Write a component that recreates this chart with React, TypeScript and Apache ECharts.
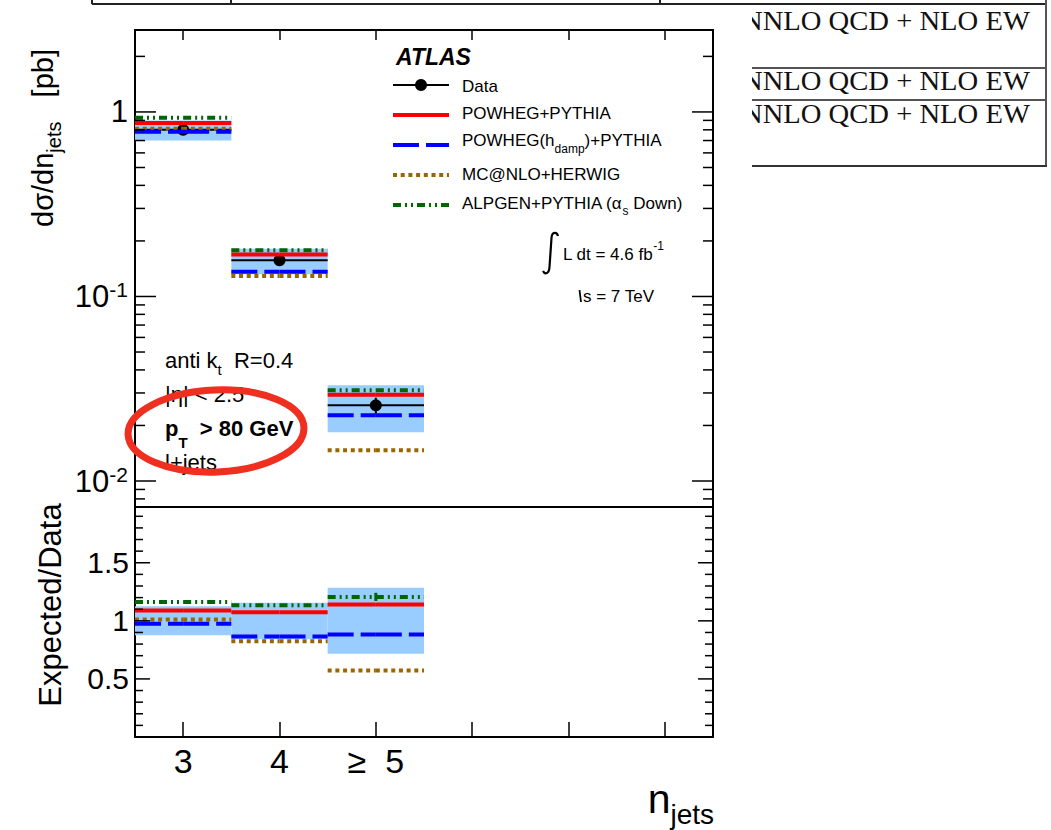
import { useEffect, useRef } from 'react';
import * as echarts from 'echarts';

// ---- data -------------------------------------------------------------
const bins = ['3', '4', '5', '6', '7', '8'];
const binLabels: Record<string, string> = { '3': '3', '4': '4', '5': '\u2265  5' };

const dataXsec = [0.8, 0.157, 0.0257];
const dataStatErr = [0.008, 0.003, 0.0026];
const totalUncUp = [0.9, 0.1815, 0.033];
const totalUncDown = [0.7, 0.132, 0.0184];

const powhegPythia = [0.872, 0.1687, 0.0293];
const powhegHdampPythia = [0.78, 0.136, 0.0227];
const mcatnloHerwig = [0.81, 0.1293, 0.0147];
const alpgenAsDown = [0.93, 0.178, 0.031];
const alpgenRatioErr = [0, 0, 0.035];

const logMajorTicks = [0.01, 0.1, 1];
const logMinorTicks = [0.008, 0.009, 0.02, 0.03, 0.04, 0.05, 0.06, 0.07, 0.08, 0.09, 0.2, 0.3, 0.4, 0.5, 0.6, 0.7, 0.8, 0.9, 2];
const ratioMajorTicks = [0.5, 1, 1.5];
const ratioMinorTicks = [0.1, 0.2, 0.3, 0.4, 0.6, 0.7, 0.8, 0.9, 1.1, 1.2, 1.3, 1.4, 1.6, 1.7, 1.8, 1.9];

// ---- styles -----------------------------------------------------------
const FONT = '"Liberation Sans", Arial, Helvetica, sans-serif';
const SERIF = '"Liberation Serif", "Times New Roman", serif';
const BAND = '#99ccff';

const models = [
  { values: mcatnloHerwig, color: '#996600', dash: [4, 3.7] },
  { values: powhegHdampPythia, color: '#0000ff', dash: [26, 7] },
  { values: powhegPythia, color: '#ff0000', dash: null as number[] | null },
  { values: alpgenAsDown, color: '#006600', dash: [8, 4, 2, 4, 2, 4] },
];

// each bin is drawn as two half segments (edge -> centre -> edge)
function halfBinRenderer(color: string, dash: number[] | null, width: number) {
  return (params: any, api: any) => {
    const idx = api.value(0);
    const v = api.value(1);
    const c = api.coord([idx, v]);
    const bw = api.size([1, 0], [idx, v])[0];
    const mk = () => ({ stroke: color, lineWidth: width, lineDash: dash || undefined, fill: null });
    return {
      type: 'group',
      children: [
        { type: 'line', shape: { x1: c[0] - bw / 2, y1: c[1], x2: c[0], y2: c[1] }, style: mk() },
        { type: 'line', shape: { x1: c[0], y1: c[1], x2: c[0] + bw / 2, y2: c[1] }, style: mk() },
      ],
    };
  };
}

function bandRenderer(params: any, api: any) {
  const idx = api.value(0);
  const lo = api.value(1);
  const hi = api.value(2);
  const top = api.coord([idx, hi]);
  const bot = api.coord([idx, lo]);
  const bw = api.size([1, 0], [idx, hi])[0];
  return {
    type: 'rect',
    shape: { x: top[0] - bw / 2, y: top[1], width: bw, height: bot[1] - top[1] },
    style: { fill: BAND },
  };
}

function dataRenderer(params: any, api: any) {
  const idx = api.value(0);
  const v = api.value(1);
  const e = api.value(2);
  const c = api.coord([idx, v]);
  const bw = api.size([1, 0], [idx, v])[0];
  const hi = api.coord([idx, v + e])[1];
  const lo = api.coord([idx, v - e])[1];
  return {
    type: 'group',
    children: [
      { type: 'line', shape: { x1: c[0] - bw / 2, y1: c[1], x2: c[0] + bw / 2, y2: c[1] }, style: { stroke: '#000', lineWidth: 2 } },
      { type: 'line', shape: { x1: c[0], y1: hi, x2: c[0], y2: lo }, style: { stroke: '#000', lineWidth: 2 } },
      { type: 'circle', shape: { cx: c[0], cy: c[1], r: 6 }, style: { fill: '#000' } },
    ],
  };
}

function errBarRenderer(color: string) {
  return (params: any, api: any) => {
    const idx = api.value(0);
    const v = api.value(1);
    const e = api.value(2);
    const hi = api.coord([idx, v + e]);
    const lo = api.coord([idx, v - e]);
    return {
      type: 'line',
      shape: { x1: hi[0], y1: hi[1], x2: lo[0], y2: lo[1] },
      style: { stroke: color, lineWidth: 3 },
    };
  };
}

function tickRenderer(params: any, api: any) {
  const y = api.coord([0, api.value(1)])[1];
  const len = api.value(2);
  const cs = params.coordSys;
  return {
    type: 'group',
    children: [
      { type: 'line', shape: { x1: cs.x, y1: y, x2: cs.x + len, y2: y }, style: { stroke: '#000', lineWidth: 1.5 } },
      { type: 'line', shape: { x1: cs.x + cs.width, y1: y, x2: cs.x + cs.width - len, y2: y }, style: { stroke: '#000', lineWidth: 1.5 } },
    ],
  };
}

// ---- graphic helpers ----------------------------------------------------
function tok(fontSize: number, extra: any = {}) {
  return { fontSize, fontFamily: FONT, fill: '#000', verticalAlign: 'middle', ...extra };
}

function label(x: number, y: number, text: string, fontSize: number, extra: any = {}, rich?: any, z = 10) {
  return {
    type: 'text',
    x,
    y,
    z,
    style: {
      text,
      fontSize,
      fontFamily: FONT,
      fill: '#000',
      align: 'left',
      textAlign: 'left',
      verticalAlign: 'middle',
      textVerticalAlign: 'middle',
      rich,
      ...extra,
    },
  };
}

function hline(x1: number, x2: number, y: number, stroke: string, lineWidth: number, lineDash?: number[], z = 10) {
  return { type: 'line', z, shape: { x1, y1: y, x2, y2: y }, style: { stroke, lineWidth, lineDash } };
}

function buildOption() {
  const series: any[] = [];

  // upper pad
  series.push({
    type: 'custom', xAxisIndex: 0, yAxisIndex: 0, z: 1, silent: true,
    renderItem: bandRenderer,
    data: dataXsec.map((_, i) => [i, totalUncDown[i], totalUncUp[i]]),
  });
  series.push({
    type: 'custom', xAxisIndex: 0, yAxisIndex: 0, z: 3, silent: true,
    renderItem: dataRenderer,
    data: dataXsec.map((v, i) => [i, v, dataStatErr[i]]),
  });
  models.forEach((m, k) => {
    series.push({
      type: 'custom', xAxisIndex: 0, yAxisIndex: 0, z: 4 + k, silent: true,
      renderItem: halfBinRenderer(m.color, m.dash, 4),
      data: m.values.map((v, i) => [i, v]),
    });
  });
  series.push({
    type: 'custom', xAxisIndex: 0, yAxisIndex: 0, z: 9, silent: true,
    renderItem: tickRenderer,
    data: [...logMajorTicks.map((v) => [0, v, 21]), ...logMinorTicks.map((v) => [0, v, 10])],
  });

  // ratio pad
  series.push({
    type: 'custom', xAxisIndex: 1, yAxisIndex: 1, z: 1, silent: true,
    renderItem: bandRenderer,
    data: dataXsec.map((d, i) => [i, totalUncDown[i] / d, totalUncUp[i] / d]),
  });
  models.forEach((m, k) => {
    series.push({
      type: 'custom', xAxisIndex: 1, yAxisIndex: 1, z: 4 + k, silent: true,
      renderItem: halfBinRenderer(m.color, m.dash, 4),
      data: m.values.map((v, i) => [i, v / dataXsec[i]]),
    });
  });
  series.push({
    type: 'custom', xAxisIndex: 1, yAxisIndex: 1, z: 8, silent: true,
    renderItem: errBarRenderer('#006600'),
    data: alpgenAsDown
      .map((v, i) => [i, v / dataXsec[i], alpgenRatioErr[i]])
      .filter((d) => d[2] > 0),
  });
  series.push({
    type: 'custom', xAxisIndex: 1, yAxisIndex: 1, z: 9, silent: true,
    renderItem: tickRenderer,
    data: [...ratioMajorTicks.map((v) => [0, v, 15]), ...ratioMinorTicks.map((v) => [0, v, 8])],
  });

  const sub = (fs: number, pad: number, extra: any = {}) => tok(fs, { padding: [pad, 0, 0, 0], ...extra });
  const sup = (fs: number, pad: number) => tok(fs, { padding: [0, 0, pad, 0] });

  const legendX = 393;
  const legendTextX = 462;

  const graphic: any[] = [
    // frame strip and table edges along the top
    hline(92, 1047, 4, '#222', 2, undefined, 30),
    { type: 'line', z: 30, shape: { x1: 92, y1: 0, x2: 92, y2: 4 }, style: { stroke: '#222', lineWidth: 2 } },
    { type: 'line', z: 30, shape: { x1: 231, y1: 0, x2: 231, y2: 4 }, style: { stroke: '#222', lineWidth: 2 } },
    { type: 'line', z: 30, shape: { x1: 660, y1: 0, x2: 660, y2: 4 }, style: { stroke: '#222', lineWidth: 2 } },
    { type: 'line', z: 30, shape: { x1: 1046, y1: 0, x2: 1046, y2: 167 }, style: { stroke: '#555', lineWidth: 2 } },
    hline(752, 1047, 68, '#555', 2, undefined, 30),
    hline(752, 1047, 100, '#555', 2, undefined, 30),
    hline(752, 1047, 166, '#333', 2, undefined, 30),
    ...[21, 81, 114].map((y) => ({
      type: 'text', x: 742, y, z: 1, scaleX: 1.06,
      style: { text: 'NNLO QCD + NLO EW', fontSize: 27, fontFamily: SERIF, fill: '#111', align: 'left', textAlign: 'left', verticalAlign: 'middle', textVerticalAlign: 'middle' },
    })),
    { type: 'rect', z: 2, shape: { x: 715, y: 6, width: 37, height: 165 }, style: { fill: '#fff' } },

    // legend
    label(396, 57, 'ATLAS', 23, { fontWeight: 'bold', fontStyle: 'italic' }),
    hline(legendX, legendX + 56, 85, '#000', 2),
    { type: 'circle', z: 10, shape: { cx: legendX + 28, cy: 85, r: 6 }, style: { fill: '#000' } },
    label(legendTextX, 86, 'Data', 17),
    hline(legendX, legendX + 56, 115, '#ff0000', 4),
    label(legendTextX, 113, 'POWHEG+PYTHIA', 17),
    hline(legendX, legendX + 56, 145, '#0000ff', 4, [26, 7]),
    label(legendTextX, 140, '{m|POWHEG(h}{s|damp}{m|)+PYTHIA}', 17, {}, { m: tok(17), s: sub(12, 18) }),
    hline(legendX, legendX + 56, 175, '#996600', 4, [4, 3.7]),
    label(legendTextX, 174, 'MC@NLO+HERWIG', 17),
    hline(legendX, legendX + 56, 205, '#006600', 4, [8, 4, 2, 4, 2, 4]),
    label(legendTextX, 203, '{m|ALPGEN+PYTHIA (\u03b1}{s|s}{m| Down)}', 17, {}, { m: tok(17), s: sub(12, 16) }),

    // luminosity and energy
    { type: 'integralSign', z: 10, x: 0, y: 0, style: { stroke: '#000', lineWidth: 2.2, fill: 'none' } },
    label(563, 254, '{m|L dt = 4.6 fb}{p|-1}', 17, {}, { m: tok(17), p: sup(12, 16) }),
    { type: 'line', z: 10, shape: { x1: 579.5, y1: 290, x2: 581, y2: 302 }, style: { stroke: '#000', lineWidth: 1.8 } },
    label(583, 296, 's = 7 TeV', 17),

    // selection text
    label(165, 360, '{m|anti k}{s|t}{m|  R=0.4}', 22, {}, { m: tok(22), s: sub(15, 18) }),
    label(165, 394, '|\u03b7| < 2.5', 22),
    label(165, 428, '{m|p}{s|T}{m|  > 80 GeV}', 22, {}, {
      m: tok(22, { fontWeight: 'bold' }),
      s: sub(15, 28, { fontWeight: 'bold' }),
    }),
    label(165, 462, 'l+jets', 22),

    // hand-drawn highlight ring
    {
      type: 'ellipse', z: 20, x: 216, y: 431, rotation: 0.04,
      shape: { cx: 0, cy: 0, rx: 88, ry: 41 },
      style: { stroke: '#ef2f1f', lineWidth: 7, fill: 'none' },
    },

    // axis titles
    {
      type: 'text', z: 10, x: 43, y: 138, rotation: Math.PI / 2,
      style: {
        text: '{m|d\u03c3/dn}{s|jets}{m|   [pb]}',
        align: 'center', textAlign: 'center', verticalAlign: 'middle', textVerticalAlign: 'middle',
        rich: { m: tok(29), s: sub(20, 22) },
      },
    },
    {
      type: 'text', z: 10, x: 50, y: 605, rotation: Math.PI / 2,
      style: {
        text: 'Expected/Data', fontSize: 31, fontFamily: FONT, fill: '#000',
        align: 'center', textAlign: 'center', verticalAlign: 'middle', textVerticalAlign: 'middle',
      },
    },
    {
      type: 'text', z: 10, x: 714, y: 799,
      style: {
        text: '{m|n}{s|jets}',
        align: 'right', textAlign: 'right', verticalAlign: 'middle', textVerticalAlign: 'middle',
        rich: { m: tok(41), s: sub(28, 30) },
      },
    },
  ];

  const logFormatter = (v: number) => {
    const l = Math.log10(v);
    const e = Math.round(l);
    if (Math.abs(l - e) > 1e-6) return '';
    if (e === 0) return '1';
    return '{b|10}{p|' + e + '}';
  };

  return {
    animation: false,
    grid: [
      { left: 135, top: 30, width: 578, height: 477, show: true, borderColor: '#000', borderWidth: 2, backgroundColor: 'transparent', containLabel: false, outerBoundsMode: 'none' },
      { left: 135, top: 507, width: 578, height: 230, show: true, borderColor: '#000', borderWidth: 2, backgroundColor: 'transparent', containLabel: false, outerBoundsMode: 'none' },
    ],
    xAxis: [
      {
        gridIndex: 0, type: 'category', data: bins, position: 'top',
        axisLine: { show: false },
        axisTick: { show: true, inside: true, length: 10, alignWithLabel: true, interval: 0, lineStyle: { color: '#000', width: 1.5 } },
        axisLabel: { show: false },
        splitLine: { show: false },
      },
      {
        gridIndex: 1, type: 'category', data: bins, position: 'bottom',
        axisLine: { show: false },
        axisTick: { show: true, inside: true, length: 15, alignWithLabel: true, interval: 0, lineStyle: { color: '#000', width: 1.5 } },
        axisLabel: {
          interval: 0, margin: 7, fontSize: 34, fontFamily: FONT, color: '#000',
          formatter: (v: string) => binLabels[v] ?? '',
        },
        splitLine: { show: false },
      },
    ],
    yAxis: [
      {
        gridIndex: 0, type: 'log', logBase: 10, min: 0.00723, max: 2.78,
        axisLine: { show: false }, axisTick: { show: false }, splitLine: { show: false },
        minorTick: { show: false }, minorSplitLine: { show: false },
        axisLabel: {
          margin: 7, fontSize: 31, fontFamily: FONT, color: '#000',
          formatter: logFormatter,
          rich: {
            b: { fontSize: 31, fontFamily: FONT, color: '#000', verticalAlign: 'middle' },
            p: { fontSize: 21, fontFamily: FONT, color: '#000', verticalAlign: 'middle', padding: [0, 0, 14, 0] },
          },
        },
      },
      {
        gridIndex: 1, type: 'value', min: 0, max: 1.98, interval: 0.5,
        axisLine: { show: false }, axisTick: { show: false }, splitLine: { show: false },
        axisLabel: {
          margin: 6, fontSize: 30, fontFamily: FONT, color: '#000',
          formatter: (v: number) => (v === 0 || v > 1.9 ? '' : String(v)),
        },
      },
    ],
    graphic,
    series,
  };
}

export default function App() {
  const ref = useRef<HTMLDivElement>(null);
  useEffect(() => {
    if (!ref.current) return;
    echarts.graphic.registerShape(
      'integralSign',
      echarts.graphic.extendPath('M 558 236 C 557 232 552 231 551.5 238 L 549.5 267 C 549 274 545 275 543 271', {}),
    );
    const chart = echarts.init(ref.current, null, { renderer: 'svg' });
    chart.setOption(buildOption() as any);
    return () => chart.dispose();
  }, []);
  return (
    <div
      ref={ref}
      style={{ position: 'absolute', left: 0, top: 0, width: 1051, height: 830, background: '#fff' }}
    />
  );
}
